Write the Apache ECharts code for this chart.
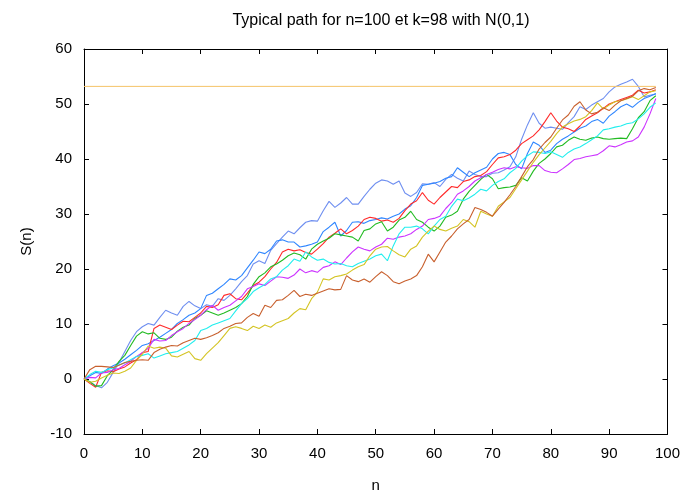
<!DOCTYPE html>
<html>
<head>
<meta charset="utf-8">
<script src="https://cdn.jsdelivr.net/npm/echarts@6/dist/echarts.min.js"></script>
<style>
html,body{margin:0;padding:0;background:#fff;}
#main{width:683px;height:498px;}
</style>
</head>
<body>
<div id="main"></div>
<script>
// 8 trajectoires S(n), n = 0..98
var pathBlue1 = [0,-0.5,-1.2,-1.6,-0.6,1.2,3.0,5.0,7.0,8.6,9.5,10.1,9.8,11.2,12.5,12.0,11.6,13.2,14.1,13.3,
  12.8,13.5,13.2,14.6,14.3,15.2,16.4,17.7,18.8,20.9,21.5,21.0,23.4,24.6,25.8,26.9,26.4,27.5,28.5,28.8,
  28.7,30.6,32.3,31.2,32.0,33.0,31.8,31.8,33.2,34.5,35.6,36.2,36.0,35.4,36.0,33.8,33.2,33.9,35.5,35.4,
  35.7,35.0,36.3,37.2,36.5,36.0,37.8,37.2,36.8,36.8,37.4,37.5,38.0,38.6,40.4,43.6,46.2,48.4,46.5,45.6,
  45.8,45.6,45.4,46.6,47.7,49.5,49.0,49.8,50.4,51.0,52.2,53.1,53.6,54.0,54.5,53.2,51.3,51.6,51.8];
var pathBlue2 = [0,0.6,1.2,1.0,1.8,2.4,2.9,3.6,4.4,5.2,6.1,6.4,7.0,7.6,8.3,9.0,10.1,10.8,11.6,12.0,
  12.8,15.2,15.6,16.4,17.2,18.2,18.0,18.8,20.2,21.6,23.1,22.8,23.6,25.1,25.3,24.9,24.9,24.0,24.2,24.5,
  24.9,26.8,27.6,28.5,26.0,27.0,28.5,28.6,28.3,28.8,29.0,29.3,29.1,29.6,30.0,30.9,31.5,33.0,35.2,35.4,
  35.6,35.9,36.5,36.8,38.4,37.6,36.8,37.5,38.0,38.5,40.0,41.0,41.2,40.8,39.0,38.2,41.0,43.1,42.5,41.2,
  41.6,42.8,43.6,44.2,44.9,45.6,46.0,46.8,47.2,46.5,47.8,48.6,49.5,50.0,49.4,50.3,51.0,51.4,51.9];
var pathRed = [0,-0.8,-1.5,1.2,1.5,1.3,1.8,2.2,2.9,3.5,4.8,5.0,9.2,9.8,9.4,9.0,9.8,10.5,10.4,11.2,
  12.0,13.2,13.0,13.5,15.2,15.5,14.6,14.4,15.6,17.0,17.6,18.6,20.0,21.2,23.1,23.6,23.3,23.5,23.0,22.7,
  23.6,24.6,25.8,26.5,27.3,26.4,27.0,27.8,29.0,29.4,29.2,28.7,28.9,28.5,29.2,30.6,31.8,32.4,33.9,32.5,
  31.8,33.0,34.0,35.0,34.8,35.9,36.2,36.8,37.0,37.7,39.0,40.2,40.4,40.8,41.6,42.8,43.5,44.2,45.3,46.8,
  48.4,46.9,45.8,45.5,45.0,46.0,47.2,47.8,48.4,49.2,50.0,50.4,50.8,51.2,51.6,52.5,52.0,52.2,52.6];
var pathGreen = [0,-0.5,-1.3,-1.2,0.6,1.7,3.2,4.3,6.1,7.8,8.6,8.2,8.4,7.4,7.2,7.6,8.7,9.4,9.8,11.0,
  11.6,12.4,12.0,11.6,12.0,12.5,13.0,13.7,15.0,17.2,18.6,19.3,20.4,20.9,21.6,22.4,22.9,22.6,21.8,23.6,
  24.5,25.1,25.6,26.4,26.2,26.0,25.8,25.1,27.0,27.3,28.2,28.6,26.9,27.6,28.9,29.4,30.5,29.0,28.5,27.6,
  26.9,27.8,29.4,29.8,30.5,32.7,34.1,35.2,36.3,37.2,36.4,34.6,34.8,34.9,35.2,36.6,36.0,37.8,39.2,40.0,
  41.0,42.2,42.5,43.4,44.0,43.6,43.4,43.8,44.0,43.7,43.6,43.7,43.8,43.7,45.5,47.5,48.6,50.6,51.5];
var pathMagenta = [0,0.3,0.2,1.1,1.2,1.7,1.9,2.6,3.2,4.1,4.8,5.6,7.2,6.9,7.0,7.9,8.6,9.2,10.1,10.8,
  11.6,12.6,13.4,12.5,13.0,13.4,14.2,15.0,16.4,16.8,17.3,17.0,17.8,18.6,18.5,18.3,18.9,20.0,19.3,19.7,
  19.4,20.3,20.6,21.3,20.8,22.0,23.1,24.0,23.6,23.3,24.0,24.5,25.6,25.4,25.8,26.0,26.4,27.2,27.8,29.0,
  29.2,29.6,31.0,32.1,33.6,34.2,35.0,36.0,36.6,37.2,37.6,38.1,38.4,38.2,38.6,38.4,38.3,38.8,38.8,37.9,
  37.6,37.5,38.2,39.0,39.9,40.1,40.4,40.6,40.8,41.5,42.4,42.2,42.6,43.1,43.3,44.0,45.8,48.2,51.0];
var pathCyan = [0,0.8,1.4,1.2,1.7,2.0,2.6,2.9,3.5,4.1,4.3,4.6,3.8,4.2,4.6,4.8,5.0,5.6,6.2,7.0,
  8.8,9.2,9.8,10.2,10.6,11.0,12.4,13.7,14.6,15.9,16.6,17.2,18.2,18.6,19.8,20.6,21.8,21.4,23.1,22.2,
  21.6,21.8,21.2,20.9,21.0,20.6,20.4,21.0,21.4,21.8,22.4,22.7,21.5,24.2,26.4,27.6,27.6,27.8,27.3,26.4,
  27.8,29.0,29.6,31.4,32.7,32.4,32.9,33.6,34.5,34.2,35.2,35.9,36.4,37.5,38.3,39.6,40.6,41.3,41.2,41.0,
  41.3,40.8,40.3,41.2,41.8,42.2,42.8,43.5,44.2,45.3,45.5,45.8,46.0,46.4,46.6,47.3,48.2,49.4,50.2];
var pathYellow = [0,-0.6,-0.4,0.2,0.7,1.1,1.0,1.4,2.0,3.4,4.5,6.0,5.6,5.8,5.6,4.2,4.0,4.5,5.0,3.7,
  3.4,4.6,5.6,6.6,7.9,9.2,9.5,9.2,8.8,9.6,9.2,9.8,9.4,10.2,10.6,11.0,12.0,12.8,12.6,14.6,
  15.8,18.2,18.0,18.6,18.8,19.1,19.8,20.4,20.8,22.4,23.6,24.0,24.1,23.3,22.6,22.2,23.6,24.2,25.8,26.9,
  27.8,27.2,26.9,27.4,27.8,29.0,28.6,27.6,30.5,30.0,29.6,31.4,32.2,33.0,34.6,36.2,37.8,39.4,40.8,42.0,
  43.2,44.6,45.8,46.4,46.9,47.2,47.7,48.8,50.2,49.1,49.8,50.4,50.6,50.9,51.3,50.8,51.5,52.2,52.4];
var pathBrown = [0,1.7,2.3,2.3,2.2,2.1,2.5,3.0,3.2,3.4,3.5,3.4,4.8,5.4,5.8,6.1,6.0,6.6,7.0,7.4,
  7.2,7.5,7.9,8.4,9.2,9.6,10.1,10.2,11.2,11.9,11.4,13.4,13.0,14.3,14.4,15.2,16.1,15.0,15.4,15.2,
  15.6,16.0,16.4,16.2,16.3,18.8,18.0,17.7,18.2,17.6,18.6,19.5,18.8,17.7,17.3,17.8,18.2,18.8,20.4,22.7,
  21.3,23.1,24.9,26.0,27.3,28.2,29.0,31.2,30.8,30.3,29.6,30.9,32.1,33.5,35.0,36.8,38.6,39.9,41.8,43.0,
  44.0,45.6,47.1,48.0,49.6,50.4,48.9,48.2,48.5,49.3,48.8,49.8,50.6,51.0,51.4,52.4,52.8,52.6,53.0];

// niveau horizontal
var levelStart = 0, levelEnd = 98, levelValue = 53.2;

var xTicks = { min: 0, max: 100, step: 10 };
var yTicks = { min: -10, max: 60, step: 10 };

var paths = [
  { data: pathBlue1,   color: '#6f8ff0' },
  { data: pathBlue2,   color: '#2f86ff' },
  { data: pathRed,     color: '#ff2a2a' },
  { data: pathGreen,   color: '#22bb22' },
  { data: pathMagenta, color: '#cc33ff' },
  { data: pathCyan,    color: '#22eeee' },
  { data: pathYellow,  color: '#d4c424' },
  { data: pathBrown,   color: '#c8602e' }
];

var font = 'Liberation Sans, Arial, sans-serif';
var myChart = echarts.init(document.getElementById('main'));

var series = [];
paths.forEach(function (p) {
  series.push({
    type: 'line',
    showSymbol: false,
    symbol: 'none',
    animation: false,
    lineStyle: { width: 1.1, color: p.color },
    data: p.data.map(function (v, i) { return [i, v]; })
  });
});
series.push({
  type: 'line',
  showSymbol: false,
  symbol: 'none',
  animation: false,
  lineStyle: { width: 1, color: '#f5c469' },
  data: [[levelStart, levelValue], [levelEnd, levelValue]]
});

function axisBase(pos, t, showLabel, name) {
  return {
    type: 'value',
    position: pos,
    min: t.min, max: t.max, interval: t.step,
    splitLine: { show: false },
    axisLine: { show: true, onZero: false, lineStyle: { color: '#000', width: 1 } },
    axisTick: { show: true, inside: true, length: 5, lineStyle: { color: '#000' } },
    axisLabel: { show: showLabel, color: '#000', fontSize: 15, fontFamily: font, margin: 12 },
    name: name || '',
    nameLocation: 'middle',
    nameTextStyle: { color: '#000', fontSize: 15, fontFamily: font }
  };
}

var xBottom = axisBase('bottom', xTicks, true, 'n');
xBottom.nameGap = 44;
var yLeft = axisBase('left', yTicks, true, 'S(n)');
yLeft.nameGap = 50;

var option = {
  backgroundColor: '#fff',
  animation: false,
  title: {
    text: 'Typical path for n=100 et k=98 with N(0,1)',
    left: 376, top: 8, textAlign: 'center',
    textStyle: { fontSize: 16, fontWeight: 'normal', color: '#000', fontFamily: font }
  },
  grid: { left: 84, right: 15, top: 49, bottom: 57 },
  xAxis: [xBottom, axisBase('top', xTicks, false)],
  yAxis: [yLeft, axisBase('right', yTicks, false)],
  series: series
};
myChart.setOption(option);
</script>
</body>
</html>
